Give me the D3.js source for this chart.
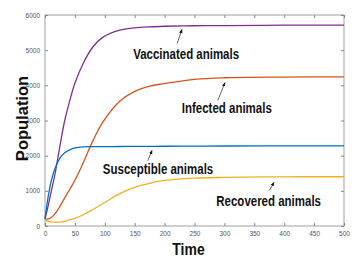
<!DOCTYPE html>
<html>
<head>
<meta charset="utf-8">
<script src="https://cdn.jsdelivr.net/npm/d3@7"></script>
<style>
    body { margin: 0; background: #fff; }
    svg { display: block; }
    .tick text { font-family: "Liberation Sans", Arial, sans-serif; fill: #555; }
</style>
</head>
<body>
<div id="chart"></div>
<script>
// time points (days)
const times = [0, 5, 10, 17, 25, 33, 42, 50, 64, 80, 97, 125, 150, 175, 200, 250, 300, 400, 500];

const vaccinated  = [200, 550, 950, 1500, 2280, 3000, 3600, 4060, 4630, 5090, 5370, 5570, 5635, 5665, 5680, 5695, 5700, 5710, 5710];
const infected    = [185, 200, 235, 350, 560, 800, 1060, 1300, 1800, 2420, 2960, 3550, 3830, 3980, 4050, 4170, 4215, 4235, 4240];
const susceptible = [200, 800, 1250, 1650, 1930, 2080, 2170, 2220, 2250, 2256, 2258, 2260, 2263, 2266, 2268, 2272, 2275, 2278, 2280];
const recovered   = [180, 140, 120, 110, 110, 130, 180, 220, 320, 470, 640, 920, 1100, 1215, 1295, 1360, 1382, 1398, 1400];

const xTicks = [0, 50, 100, 150, 200, 250, 300, 350, 400, 450, 500];
const yTicks = [0, 1000, 2000, 3000, 4000, 5000, 6000];

const seriesColors = ['#7E2F8E', '#D95319', '#0072BD', '#EDB120'];

// label text, label anchor (t, value), arrow tail and head (t, value)
const labelTexts = ['Vaccinated animals', 'Infected animals', 'Susceptible animals', 'Recovered animals'];
const labelPos   = [[236, 4760], [304, 3200], [189, 1490], [374, 580]];
const arrowTail  = [[221, 5190], [289, 3570], [172, 1860], [375, 1010]];
const arrowHead  = [[229, 5590], [301, 4080], [179, 2150], [383, 1240]];

const W = 364, H = 261;
const M = { left: 45, right: 20, top: 15, bottom: 35 };
const NARROW = 0.82; // the original uses a condensed bold face

const svg = d3.select('#chart').append('svg')
    .attr('width', W)
    .attr('height', H);

const x = d3.scaleLinear().domain([0, 500]).range([M.left, W - M.right]);
const y = d3.scaleLinear().domain([0, 6000]).range([H - M.bottom, M.top]);

svg.append('defs').append('marker')
    .attr('id', 'head')
    .attr('viewBox', '0 0 10 10')
    .attr('refX', 9).attr('refY', 5)
    .attr('markerWidth', 6).attr('markerHeight', 6)
    .attr('orient', 'auto')
    .append('path')
    .attr('d', 'M0,1 L10,5 L0,9 Z')
    .attr('fill', '#111');

function styleAxis(g) {
    g.select('.domain').remove();
    g.selectAll('.tick line').attr('stroke', '#888');
    g.selectAll('.tick text').attr('font-size', 6.5);
}

// squeeze bold text to look like the condensed face
function narrow(sel) {
    sel.each(function () {
        const len = this.getComputedTextLength();
        d3.select(this)
            .attr('textLength', len * NARROW)
            .attr('lengthAdjust', 'spacingAndGlyphs');
    });
}

// bottom / left axes with labels, top / right with ticks only (inward)
svg.append('g')
    .attr('transform', `translate(0,${H - M.bottom})`)
    .call(d3.axisBottom(x).tickValues(xTicks).tickSize(-3).tickPadding(5).tickFormat(d3.format('d')))
    .call(styleAxis);
svg.append('g')
    .attr('transform', `translate(0,${M.top})`)
    .call(d3.axisTop(x).tickValues(xTicks).tickSize(-3).tickFormat(''))
    .call(styleAxis);
svg.append('g')
    .attr('transform', `translate(${M.left},0)`)
    .call(d3.axisLeft(y).tickValues(yTicks).tickSize(-3).tickPadding(5).tickFormat(d3.format('d')))
    .call(styleAxis);
svg.append('g')
    .attr('transform', `translate(${W - M.right},0)`)
    .call(d3.axisRight(y).tickValues(yTicks).tickSize(-3).tickFormat(''))
    .call(styleAxis);

svg.append('rect')
    .attr('x', M.left).attr('y', M.top)
    .attr('width', W - M.left - M.right)
    .attr('height', H - M.top - M.bottom)
    .attr('fill', 'none')
    .attr('stroke', '#888')
    .attr('stroke-width', 0.8);

const line = d3.line()
    .x((d, i) => x(times[i]))
    .y(d => y(d))
    .curve(d3.curveCatmullRom.alpha(0.5));

const allSeries = [vaccinated, infected, susceptible, recovered];
svg.append('g')
    .selectAll('path')
    .data(allSeries)
    .join('path')
    .attr('d', d => line(d))
    .attr('fill', 'none')
    .attr('stroke', (d, i) => seriesColors[i])
    .attr('stroke-width', 1.3);

// annotations
const ann = svg.append('g');
ann.selectAll('line')
    .data(labelTexts)
    .join('line')
    .attr('x1', (d, i) => x(arrowTail[i][0]))
    .attr('y1', (d, i) => y(arrowTail[i][1]))
    .attr('x2', (d, i) => x(arrowHead[i][0]))
    .attr('y2', (d, i) => y(arrowHead[i][1]))
    .attr('stroke', '#222')
    .attr('stroke-width', 0.7)
    .attr('marker-end', 'url(#head)');

ann.selectAll('text')
    .data(labelTexts)
    .join('text')
    .attr('x', (d, i) => x(labelPos[i][0]))
    .attr('y', (d, i) => y(labelPos[i][1]))
    .attr('text-anchor', 'middle')
    .attr('font-family', '"Liberation Sans", Arial, sans-serif')
    .attr('font-weight', 'bold')
    .attr('font-size', 14)
    .attr('fill', '#111')
    .text(d => d)
    .call(narrow);

// axis titles
svg.append('text')
    .attr('x', (x(0) + x(500)) / 2 - 6)
    .attr('y', 255)
    .attr('text-anchor', 'middle')
    .attr('font-family', '"Liberation Sans", Arial, sans-serif')
    .attr('font-weight', 'bold')
    .attr('font-size', 17)
    .attr('fill', '#111')
    .text('Time')
    .call(narrow);

svg.append('text')
    .attr('transform', `translate(28,${(y(0) + y(6000)) / 2 - 2}) rotate(-90)`)
    .attr('text-anchor', 'middle')
    .attr('font-family', '"Liberation Sans", Arial, sans-serif')
    .attr('font-weight', 'bold')
    .attr('font-size', 16.5)
    .attr('fill', '#111')
    .text('Population');
</script>
</body>
</html>
